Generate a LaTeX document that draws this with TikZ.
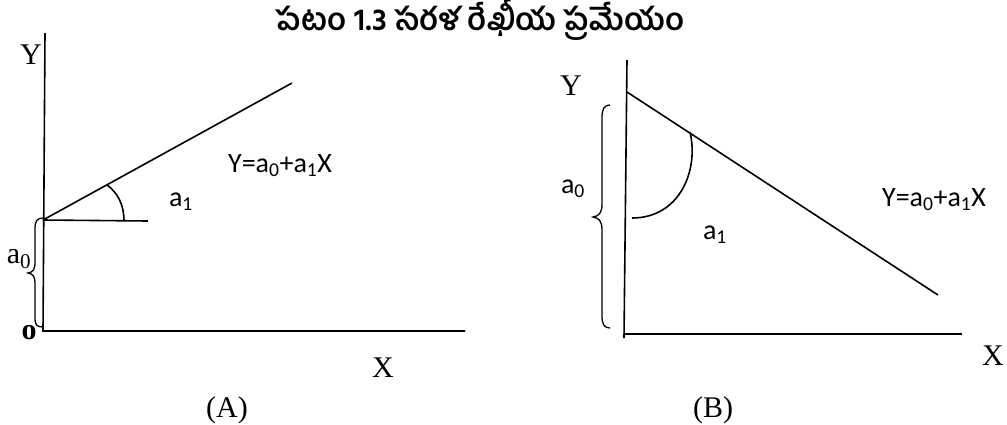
\documentclass[tikz,border=0pt]{standalone}
\usepackage{fontspec}
\setmainfont{Liberation Serif}
\newfontfamily\sansf{Carlito}
\newfontfamily\telugu[Script=Telugu]{Hind Guntur}
\begin{document}
\begin{tikzpicture}[x=1pt,y=-1pt,
  axis/.style={line width=1.6pt},
  thin/.style={line width=1.3pt},
  serlab/.style={inner sep=0pt,font=\fontsize{30}{32}\selectfont},
  sanlab/.style={inner sep=0pt,font=\sansf\fontsize{28}{30}\selectfont}]
\useasboundingbox[fill=white] (0,0) rectangle (1007,424);
% title
\node[inner sep=0pt,font=\telugu\bfseries\fontsize{31}{34}\selectfont] (title) at (480,20) {పటం 1.3 సరళ రేఖీయ ప్రమేయం};
% ---------- (A) ----------
\coordinate (aYtop) at (45,33);
\coordinate (aO) at (43,331);
\coordinate (aXend) at (465,331);
\coordinate (aI) at (43,220);
\coordinate (aLend) at (292,83);
\coordinate (aHend) at (148,221);
\draw[axis] (aYtop) -- (aO) -- (aXend);
\draw[axis] (aI) -- (aLend);
\draw[axis] (aI) -- (aHend);
\draw[axis] (107,185) .. controls (118,193) and (124,205) .. (124,221);
\draw[thin] (43,218) .. controls (37,218) and (35,221) .. (35,229) -- (35,262)
  .. controls (35,270) and (33,272) .. (28,273)
  .. controls (33,274) and (35,276) .. (35,284) -- (35,318)
  .. controls (35,325) and (37,327) .. (43,327);
\node[serlab] (aY) at (31,55) {Y};
\node[serlab] (aX) at (383,368) {X};
\node[serlab] (aA) at (227,410) {(A)};
\node[serlab] (aa0) at (19,259) {a\textsubscript{0}};
\node[inner sep=0pt,font=\bfseries\fontsize{30}{32}\selectfont] (aOlab) at (29,333) {o};
\node[sanlab] (aa1) at (181,202) {a\textsubscript{1}};
\node[sanlab] (aeq) at (280,166) {Y=a\textsubscript{0}+a\textsubscript{1}X};
% ---------- (B) ----------
\coordinate (bYtop) at (627,60);
\coordinate (bO) at (624,338);
\coordinate (bXstart) at (624,334);
\coordinate (bXend) at (962,334);
\coordinate (bI) at (627,92);
\coordinate (bLend) at (938,295);
\draw[axis] (bYtop) -- (bO);
\draw[axis] (bXstart) -- (bXend);
\draw[axis] (bI) -- (bLend);
\draw[axis] (690,132) .. controls (699,170) and (680,218) .. (632,218);
\draw[thin] (610,105) .. controls (604,105) and (602,109) .. (602,118) -- (602,204)
  .. controls (602,213) and (599,216) .. (593,217)
  .. controls (599,218) and (602,221) .. (602,230) -- (602,316)
  .. controls (602,324) and (604,328) .. (610,328);
\node[serlab] (bY) at (571,86) {Y};
\node[serlab] (bX) at (993,356) {X};
\node[serlab] (bB) at (713,410) {(B)};
\node[sanlab] (ba0) at (573,189) {a\textsubscript{0}};
\node[sanlab] (ba1) at (715,235) {a\textsubscript{1}};
\node[sanlab] (beq) at (934,200) {Y=a\textsubscript{0}+a\textsubscript{1}X};
\end{tikzpicture}
\end{document}
